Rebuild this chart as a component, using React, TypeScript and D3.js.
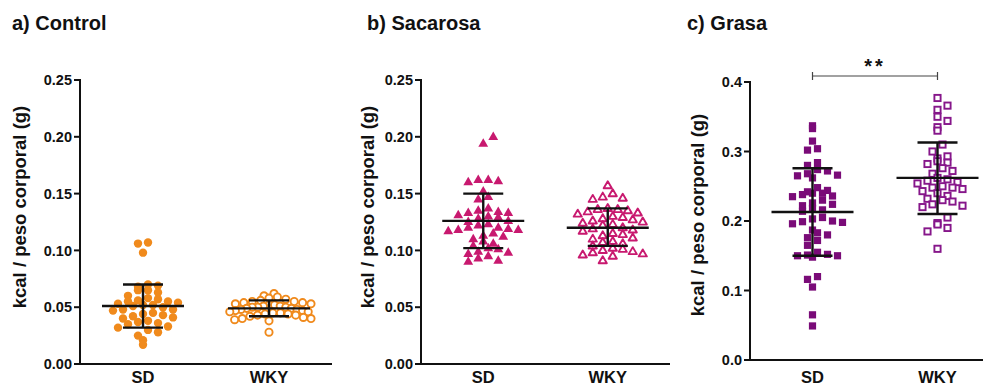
import React from 'react';
import * as d3 from 'd3';

const categories = ['SD', 'WKY'];

// kcal / peso corporal (g)
const controlSD = [0.107, 0.106, 0.098, 0.070, 0.069, 0.068, 0.065, 0.065, 0.063, 0.060, 0.058, 0.057, 0.056, 0.055, 0.055, 0.054, 0.053, 0.052, 0.052, 0.051, 0.050, 0.048, 0.048, 0.047, 0.045, 0.044, 0.043, 0.042, 0.041, 0.040, 0.038, 0.037, 0.036, 0.035, 0.033, 0.032, 0.030, 0.028, 0.025, 0.021, 0.017];
const controlWKY = [0.062, 0.060, 0.059, 0.058, 0.057, 0.056, 0.055, 0.055, 0.054, 0.054, 0.053, 0.053, 0.052, 0.052, 0.051, 0.051, 0.050, 0.050, 0.050, 0.049, 0.049, 0.048, 0.048, 0.047, 0.047, 0.046, 0.046, 0.045, 0.045, 0.044, 0.044, 0.043, 0.043, 0.042, 0.041, 0.040, 0.040, 0.039, 0.038, 0.028];
const sacarosaSD = [0.200, 0.194, 0.162, 0.162, 0.161, 0.160, 0.152, 0.147, 0.145, 0.137, 0.135, 0.134, 0.133, 0.133, 0.131, 0.130, 0.129, 0.128, 0.126, 0.125, 0.123, 0.122, 0.120, 0.120, 0.119, 0.118, 0.118, 0.117, 0.115, 0.113, 0.112, 0.110, 0.108, 0.106, 0.104, 0.102, 0.101, 0.099, 0.098, 0.097, 0.095, 0.093, 0.091, 0.090];
const sacarosaWKY = [0.157, 0.150, 0.147, 0.146, 0.145, 0.137, 0.136, 0.136, 0.135, 0.134, 0.133, 0.132, 0.130, 0.129, 0.128, 0.127, 0.126, 0.125, 0.124, 0.123, 0.122, 0.120, 0.119, 0.118, 0.117, 0.115, 0.114, 0.113, 0.111, 0.110, 0.108, 0.107, 0.106, 0.104, 0.102, 0.101, 0.100, 0.099, 0.098, 0.097, 0.096, 0.095, 0.091];
const grasaSD = [0.337, 0.333, 0.315, 0.304, 0.302, 0.284, 0.280, 0.274, 0.272, 0.268, 0.266, 0.265, 0.262, 0.248, 0.244, 0.242, 0.240, 0.240, 0.238, 0.236, 0.235, 0.230, 0.226, 0.224, 0.222, 0.218, 0.216, 0.214, 0.205, 0.203, 0.200, 0.199, 0.198, 0.196, 0.187, 0.183, 0.180, 0.176, 0.172, 0.165, 0.155, 0.152, 0.151, 0.150, 0.150, 0.148, 0.120, 0.116, 0.105, 0.065, 0.049];
const grasaWKY = [0.377, 0.366, 0.360, 0.350, 0.344, 0.335, 0.330, 0.310, 0.300, 0.293, 0.290, 0.286, 0.284, 0.282, 0.276, 0.272, 0.268, 0.262, 0.260, 0.258, 0.256, 0.254, 0.250, 0.248, 0.248, 0.246, 0.243, 0.240, 0.236, 0.232, 0.230, 0.228, 0.224, 0.222, 0.220, 0.205, 0.197, 0.195, 0.190, 0.185, 0.160];

// mean and mean ± SD per group (SD, WKY)
const controlMean = [0.051, 0.049];
const controlLow = [0.032, 0.042];
const controlHigh = [0.070, 0.056];
const sacarosaMean = [0.126, 0.120];
const sacarosaLow = [0.102, 0.104];
const sacarosaHigh = [0.150, 0.137];
const grasaMean = [0.213, 0.262];
const grasaLow = [0.150, 0.210];
const grasaHigh = [0.276, 0.313];

const ticksSmall = [0, 0.05, 0.10, 0.15, 0.20, 0.25];
const ticksGrasa = [0, 0.1, 0.2, 0.3, 0.4];

const FONT = '"Liberation Sans", Arial, sans-serif';

type Shape = 'circle' | 'triangle' | 'square';

interface PanelCfg {
    title: string;
    groups: number[][];
    mean: number[];
    low: number[];
    high: number[];
    ticks: number[];
    fmt: string;
    yMax: number;
    left: number;
    right: number;
    top: number;
    bottom: number;
    titleX: number;
    labelX: number;
    labelY: number;
    shape: Shape;
    fill: string;
    stroke: string;
    sig?: string;
}

const panels: PanelCfg[] = [
    {
        title: 'a) Control', groups: [controlSD, controlWKY], mean: controlMean, low: controlLow, high: controlHigh,
        ticks: ticksSmall, fmt: '.2f', yMax: 0.25, left: 80, right: 332, top: 80, bottom: 364,
        titleX: 12, labelX: 26, labelY: 207, shape: 'circle', fill: '#f08a1c', stroke: '#f08a1c',
    },
    {
        title: 'b) Sacarosa', groups: [sacarosaSD, sacarosaWKY], mean: sacarosaMean, low: sacarosaLow, high: sacarosaHigh,
        ticks: ticksSmall, fmt: '.2f', yMax: 0.25, left: 421, right: 670, top: 80, bottom: 364,
        titleX: 367, labelX: 374, labelY: 207, shape: 'triangle', fill: '#c8196f', stroke: '#c8196f',
    },
    {
        title: 'c) Grasa', groups: [grasaSD, grasaWKY], mean: grasaMean, low: grasaLow, high: grasaHigh,
        ticks: ticksGrasa, fmt: '.1f', yMax: 0.4, left: 750, right: 1000, top: 82, bottom: 360,
        titleX: 687, labelX: 704, labelY: 215, shape: 'square', fill: '#7a0b78', stroke: '#86168a', sig: '**',
    },
];

// GraphPad-like scatter: bin by pixel rows, spread each row sideways from the centre
const spread = (values: number[], y: d3.ScaleLinear<number, number>, rowH: number, gap: number, maxHalf: number) => {
    const rows = new Map<number, number[]>();
    values.forEach((v, i) => {
        const key = Math.floor(y(v) / rowH);
        if (!rows.has(key)) rows.set(key, []);
        rows.get(key)!.push(i);
    });
    const dx = new Array(values.length).fill(0);
    rows.forEach((idx, key) => {
        const n = idx.length;
        const step = n > 1 ? Math.min(gap, (2 * maxHalf) / n) : 0;
        // stagger odd rows by half a step so rows interleave
        const shift = key % 2 === 0 ? 0 : step / 2;
        const slots: number[] = [];
        for (let k = 0; k < n; k++) slots.push(k - (n - 1) / 2);
        slots.sort((a, b) => Math.abs(a) - Math.abs(b) || b - a);
        idx.forEach((i, k) => {
            dx[i] = slots[k] * step + (n > 1 ? shift : 0);
        });
    });
    return dx;
};

const Marker: React.FC<{ shape: Shape; open: boolean; x: number; y: number; fill: string; stroke: string }> = ({ shape, open, x, y, fill, stroke }) => {
    const f = open ? '#fff' : fill;
    const s = open ? stroke : 'none';
    const sw = open ? 1.9 : 0;
    if (shape === 'circle') {
        return <circle cx={x} cy={y} r={open ? 3.6 : 4.2} fill={f} stroke={s} strokeWidth={sw} />;
    }
    if (shape === 'triangle') {
        const p = open ? 'M0,-4.4L4.1,2.6L-4.1,2.6Z' : 'M0,-5.4L4.9,3.1L-4.9,3.1Z';
        return <path d={p} transform={`translate(${x},${y})`} fill={f} stroke={s} strokeWidth={sw} strokeLinejoin="round" />;
    }
    const h = open ? 3.1 : 3.6;
    return <rect x={x - h} y={y - h} width={2 * h} height={2 * h} fill={f} stroke={s} strokeWidth={sw} />;
};

const Panel: React.FC<{ cfg: PanelCfg }> = ({ cfg }) => {
    const x = d3.scalePoint<string>().domain(categories).range([cfg.left, cfg.right]).padding(0.5);
    const y = d3.scaleLinear().domain([0, cfg.yMax]).range([cfg.bottom, cfg.top]);
    const fmt = d3.format(cfg.fmt);
    const meanHalf = 41;
    const capHalf = 20;

    return (
        <g>
            <text x={cfg.titleX} y={30} fontSize={20} fontWeight={700} fontFamily={FONT} fill="#111">
                {cfg.title}
            </text>
            <text
                transform={`translate(${cfg.labelX},${cfg.labelY}) rotate(-90)`}
                textAnchor="middle" fontSize={18.5} fontWeight={700} fontFamily={FONT} fill="#111"
            >
                kcal / peso corporal (g)
            </text>

            {cfg.groups.map((vals, gi) => {
                const cx = x(categories[gi]) as number;
                const dx = spread(vals, y, 8, 10, 42);
                return (
                    <g key={gi}>
                        {vals.map((v, i) => (
                            <Marker key={i} shape={cfg.shape} open={gi === 1} x={cx + dx[i]} y={y(v)} fill={cfg.fill} stroke={cfg.stroke} />
                        ))}
                    </g>
                );
            })}

            {cfg.groups.map((_, gi) => {
                const cx = x(categories[gi]) as number;
                return (
                    <g key={'e' + gi} stroke="#111" strokeWidth={2.4}>
                        <line x1={cx - meanHalf} x2={cx + meanHalf} y1={y(cfg.mean[gi])} y2={y(cfg.mean[gi])} />
                        <line x1={cx} x2={cx} y1={y(cfg.low[gi])} y2={y(cfg.high[gi])} />
                        <line x1={cx - capHalf} x2={cx + capHalf} y1={y(cfg.low[gi])} y2={y(cfg.low[gi])} />
                        <line x1={cx - capHalf} x2={cx + capHalf} y1={y(cfg.high[gi])} y2={y(cfg.high[gi])} />
                    </g>
                );
            })}

            {/* axes */}
            <line x1={cfg.left} x2={cfg.left} y1={cfg.top - 1} y2={cfg.bottom + 1} stroke="#111" strokeWidth={2} />
            <line x1={cfg.left - 1} x2={cfg.right} y1={cfg.bottom} y2={cfg.bottom} stroke="#111" strokeWidth={2} />
            {cfg.ticks.map((t) => (
                <g key={t}>
                    <line x1={cfg.left - 6} x2={cfg.left} y1={y(t)} y2={y(t)} stroke="#111" strokeWidth={2} />
                    <text x={cfg.left - 8} y={y(t)} dy="0.36em" textAnchor="end" fontSize={14.5} fontWeight={700} fontFamily={FONT} fill="#111">
                        {fmt(t)}
                    </text>
                </g>
            ))}
            {categories.map((c) => (
                <text key={c} x={x(c) as number} y={383} textAnchor="middle" fontSize={16.5} fontWeight={700} fontFamily={FONT} fill="#111">
                    {c}
                </text>
            ))}

            {cfg.sig && (
                <g>
                    <g stroke="#444" strokeWidth={1.2}>
                        <line x1={x(categories[0]) as number} x2={x(categories[1]) as number} y1={76} y2={76} />
                        <line x1={x(categories[0]) as number} x2={x(categories[0]) as number} y1={72} y2={80} />
                        <line x1={x(categories[1]) as number} x2={x(categories[1]) as number} y1={72} y2={80} />
                    </g>
                    <text
                        x={((x(categories[0]) as number) + (x(categories[1]) as number)) / 2} y={73}
                        textAnchor="middle" fontSize={20} fontWeight={700} fontFamily={FONT} fill="#111" letterSpacing={3}
                    >
                        {cfg.sig}
                    </text>
                </g>
            )}
        </g>
    );
};

export default function App() {
    return (
        <svg width={983} height={388} style={{ position: 'absolute', left: 0, top: 0, background: '#fff' }}>
            <rect width={983} height={388} fill="#fff" />
            {panels.map((p) => (
                <Panel key={p.title} cfg={p} />
            ))}
        </svg>
    );
}
